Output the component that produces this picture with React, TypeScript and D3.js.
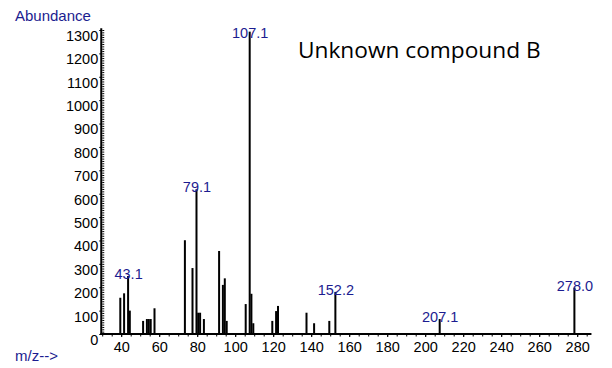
import React, { useRef, useEffect } from "react";
import * as d3 from "d3";

// m/z of every peak and its abundance
const mzValues = [
  39, 41, 43.1, 44, 51, 53, 54, 55, 57, 73, 77, 79.1, 80, 81, 83, 91, 93, 94, 95,
  105, 107.1, 108, 109, 119, 121, 122, 137, 141, 149, 152.2, 207.1, 278.0,
];
const abundances = [
  155, 174, 248, 100, 56, 64, 64, 64, 110, 401, 282, 619, 91, 91, 64, 355, 210, 238, 56,
  128, 1293, 172, 46, 56, 98, 120, 91, 46, 56, 180, 64, 198,
];
const labelledPeaks = [43.1, 79.1, 107.1, 152.2, 207.1, 278.0];

const xTicks = d3.range(40, 281, 20);
const yTicks = d3.range(0, 1301, 100);

const title = "Unknown compound B";
const yTitle = "Abundance";
const xTitle = "m/z-->";

export default function App() {
  const ref = useRef<SVGSVGElement | null>(null);

  useEffect(() => {
    const width = 612;
    const height = 368;
    const blue = "#1c1c90";
    const font = "'Liberation Sans', Arial, sans-serif";

    d3.select(ref.current).selectAll("*").remove();

    const svg = d3
      .select(ref.current)
      .attr("width", width)
      .attr("height", height)
      .style("background", "#fff");

    const x = d3.scaleLinear().domain([29.5, 287.5]).range([101.25, 591.45]);
    const y = d3.scaleLinear().domain([0, 1300]).range([334, 30]);

    const peaks = mzValues.map((mz, i) => ({ mz, value: abundances[i] }));

    // bars
    svg
      .append("g")
      .selectAll("rect")
      .data(peaks)
      .join("rect")
      .attr("x", (d) => x(d.mz))
      .attr("y", (d) => y(d.value))
      .attr("width", 2)
      .attr("height", (d) => y(0) - y(d.value))
      .attr("fill", "#000");

    // minor ticks
    svg
      .append("g")
      .attr("transform", `translate(${x(29.5) + 1},0)`)
      .call(d3.axisRight(y).tickValues(d3.range(0, 1301, 10)).tickSize(2).tickFormat(() => ""))
      .call((g) => g.select(".domain").remove());
    svg
      .append("g")
      .attr("transform", `translate(0,${y(0)})`)
      .call(
        d3.axisBottom(x).tickValues(d3.range(30, 288, 5)).tickSize(2.5).tickFormat(() => "")
      )
      .call((g) => g.select(".domain").remove());

    // y axis
    const yAxis = svg
      .append("g")
      .attr("transform", `translate(${x(29.5)},0)`)
      .call(
        d3.axisLeft(y).tickValues(yTicks).tickSize(2).tickPadding(1).tickFormat(d3.format("d"))
      );
    yAxis.select(".domain").remove();
    yAxis
      .selectAll("text")
      .attr("dy", "0.72em")
      .style("font-family", font)
      .style("font-size", "14.5px")
      .attr("fill", "#000");

    // x axis
    const xAxis = svg
      .append("g")
      .attr("transform", `translate(0,${y(0)})`)
      .call(
        d3.axisBottom(x).tickValues(xTicks).tickSize(3).tickPadding(5).tickFormat(d3.format("d"))
      );
    xAxis.select(".domain").remove();
    xAxis
      .selectAll("text")
      .style("font-family", font)
      .style("font-size", "14.5px")
      .attr("fill", "#000");

    // axis lines
    svg
      .append("line")
      .attr("x1", x(29.5))
      .attr("x2", x(29.5))
      .attr("y1", y(1307))
      .attr("y2", y(0) + 1)
      .attr("stroke", "#000")
      .attr("stroke-width", 2);
    svg
      .append("line")
      .attr("x1", x(29.5) - 1)
      .attr("x2", x(287.5))
      .attr("y1", y(0))
      .attr("y2", y(0))
      .attr("stroke", "#000")
      .attr("stroke-width", 2);

    // peak labels
    svg
      .append("g")
      .selectAll("text")
      .data(peaks.filter((d) => labelledPeaks.includes(d.mz)))
      .join("text")
      .attr("x", (d) => x(d.mz) + 1.5)
      .attr("y", (d) => Math.max(y(d.value) + 3, 38))
      .attr("text-anchor", "middle")
      .style("font-family", font)
      .style("font-size", "14.5px")
      .attr("fill", blue)
      .text((d) => d.mz.toFixed(1));

    // titles
    svg
      .append("text")
      .attr("x", 15)
      .attr("y", 21)
      .style("font-family", font)
      .style("font-size", "15px")
      .attr("fill", blue)
      .text(yTitle);
    svg
      .append("text")
      .attr("x", 15)
      .attr("y", 361)
      .style("font-family", font)
      .style("font-size", "15px")
      .attr("fill", blue)
      .text(xTitle);
    svg
      .append("text")
      .attr("x", 298)
      .attr("y", 58)
      .style("font-family", "'Open Sans', sans-serif")
      .style("font-size", "22.7px")
      .attr("fill", "#000")
      .text(title);
  }, []);

  return <svg ref={ref} style={{ position: "absolute", left: 0, top: 0 }}></svg>;
}
